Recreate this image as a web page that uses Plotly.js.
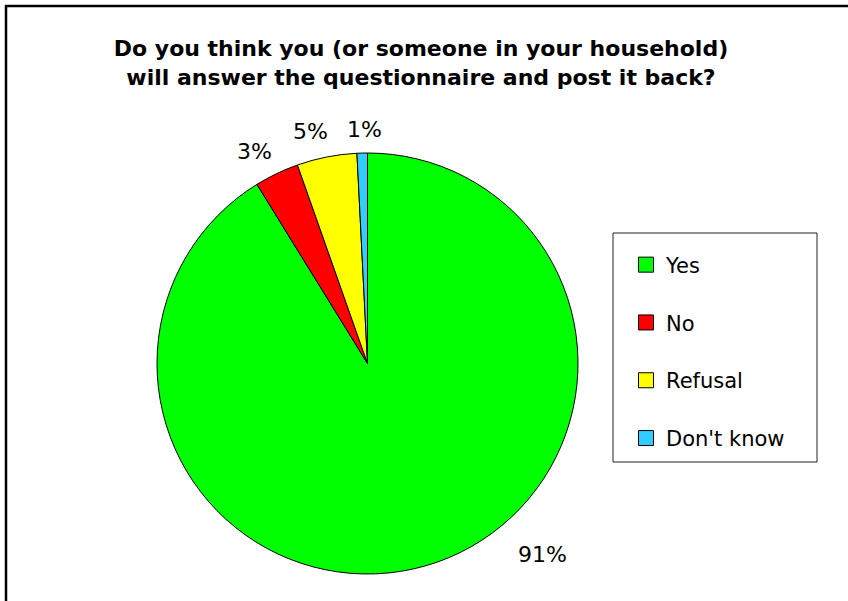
<!DOCTYPE html>
<html>
<head>
<meta charset="utf-8">
<script src="https://cdn.plot.ly/plotly-3.0.1.min.js"></script>
<style>html,body{margin:0;padding:0;background:#fff;}#chart{width:848px;height:601px;}</style>
</head>
<body>
<div id="chart"></div>
<script>
var categories = ['Yes', 'No', 'Refusal', "Don't know"];
var shares = [91.2, 3.4, 4.6, 0.8];
var sliceColors = ['#00FF00', '#FF0000', '#FFFF00', '#33CCFF'];
var titleLines = ['Do you think you (or someone in your household)', 'will answer the questionnaire and post it back?'];

var W = 848, H = 601;
var FONT = 'DejaVu Sans, Arial, sans-serif';
var total = shares.reduce(function (a, b) { return a + b; }, 0);

// pie geometry (pixels)
var cx = 367.5, cy = 363.5, R = 210.5;
// percentage label placement (pixel centres, style only)
var labelPos = [[542, 554], [255, 151], [310, 131], [364, 129]];

var pie = {
  type: 'pie',
  labels: categories,
  values: shares,
  sort: false,
  direction: 'clockwise',
  rotation: 0,
  marker: { colors: sliceColors, line: { color: '#000', width: 1 } },
  textinfo: 'none',
  showlegend: false,
  hoverinfo: 'skip',
  domain: { x: [(cx - R) / W, (cx + R) / W], y: [1 - (cy + R) / H, 1 - (cy - R) / H] }
};

var legendTraces = categories.map(function (c, i) {
  return {
    type: 'scatter', mode: 'markers', x: [null], y: [null], name: c,
    legendgroup: 'g' + i,
    marker: { symbol: 'square', size: 15, color: sliceColors[i], line: { color: '#000', width: 1 } },
    hoverinfo: 'skip'
  };
});

var pctAnnotations = shares.map(function (v, i) {
  return {
    text: Math.round(v / total * 100) + '%',
    xref: 'paper', yref: 'paper',
    x: labelPos[i][0] / W, y: 1 - labelPos[i][1] / H,
    xanchor: 'center', yanchor: 'middle',
    showarrow: false, font: { family: FONT, size: 22, color: '#000' }
  };
});

var layout = {
  width: W, height: H,
  margin: { l: 0, r: 0, t: 0, b: 0 },
  paper_bgcolor: '#fff', plot_bgcolor: 'rgba(0,0,0,0)',
  font: { family: FONT, color: '#000' },
  title: {
    text: titleLines.join('<br>'),
    font: { family: FONT, size: 22, weight: 'bold', color: '#000' },
    x: 421 / W, xanchor: 'center', xref: 'paper',
    y: 1 - 56 / H, yanchor: 'top', yref: 'container'
  },
  xaxis: { visible: false }, yaxis: { visible: false },
  showlegend: true,
  legend: {
    x: 626 / W, xanchor: 'left', y: 1 - 244.5 / H, yanchor: 'top',
    bgcolor: 'rgba(0,0,0,0)', borderwidth: 0,
    font: { family: FONT, size: 21, color: '#000' },
    tracegroupgap: 27.5, itemclick: false, itemdoubleclick: false
  },
  annotations: pctAnnotations,
  shapes: [
    { type: 'rect', xref: 'paper', yref: 'paper', x0: 613 / W, x1: 817 / W, y0: 1 - 462 / H, y1: 1 - 233 / H, line: { color: '#222', width: 1 }, fillcolor: 'rgba(0,0,0,0)' },
    { type: 'line', xref: 'paper', yref: 'paper', x0: 5 / W, x1: 1, y0: 1 - 6 / H, y1: 1 - 6 / H, line: { color: '#000', width: 2.5 } },
    { type: 'line', xref: 'paper', yref: 'paper', x0: 6 / W, x1: 6 / W, y0: 0, y1: 1 - 5 / H, line: { color: '#000', width: 2.5 } }
  ]
};

Plotly.newPlot('chart', [pie].concat(legendTraces), layout, { displayModeBar: false, staticPlot: true });
</script>
</body>
</html>
